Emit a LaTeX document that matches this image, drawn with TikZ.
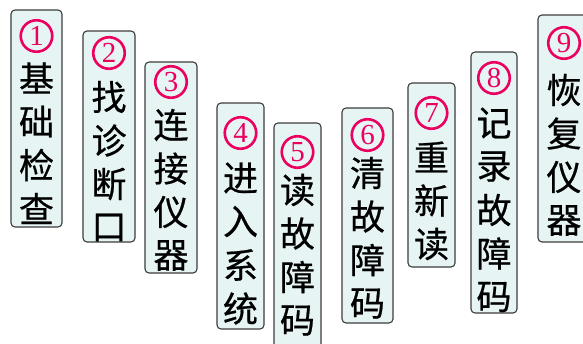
\documentclass[tikz,border=0pt]{standalone}
\usepackage{fontspec}
\setmainfont{Noto Sans CJK SC}
\newfontfamily\cjkfont[FakeBold=0.6]{Noto Sans CJK SC}
\newfontfamily\digitfont{Liberation Serif}
\definecolor{boxfill}{RGB}{230,244,244}
\definecolor{boxline}{RGB}{60,60,60}
\definecolor{numcol}{RGB}{235,0,95}
\tikzset{
  stepbox/.style={draw=boxline, fill=boxfill, line width=1.1pt, rounded corners=4pt, inner sep=0pt, outer sep=0pt},
  numtxt/.style={circle, draw=numcol, line width=2.6pt, minimum size=31.5pt, inner sep=0pt, text=numcol, font=\digitfont\fontsize{29}{29}\selectfont},
  chartxt/.style={text=black, font=\cjkfont\fontsize{35}{35}\selectfont, inner sep=0pt}
}
\newcommand\stepcol[9]{%
  \node[stepbox, anchor=north west, minimum width={#3-#2}, minimum height={#5-#4}] (#1) at (#2,#4) {};
  \node[numtxt] (#1-n) at ({(#2+#3)/2},#7) {\raisebox{-0.5pt}{#6}};
  \foreach \c [count=\i] in {#9} {\node[chartxt] (#1-\i) at ({(#2+#3)/2},{#8+(\i-1)*43.5}) {\c};}
}
\begin{document}
\begin{tikzpicture}[x=1pt,y=-1pt]
\useasboundingbox (0,0) rectangle (583,343);
\clip (0,0) rectangle (583,343);
\stepcol{s1}{11}{62}{10}{227}{1}{36}{78}{基,础,检,查}
\stepcol{s2}{83}{135}{31}{242}{2}{53}{97}{找,诊,断,口}
\stepcol{s3}{145}{197}{62}{273}{3}{82}{125}{连,接,仪,器}
\stepcol{s4}{217}{264}{103}{329}{4}{133}{178}{进,入,系,统}
\stepcol{s5}{274}{321}{123}{360}{5}{152}{190}{读,故,障,码}
\stepcol{s6}{342}{393}{108}{323}{6}{135}{173}{清,故,障,码}
\stepcol{s7}{408}{455}{83}{267}{7}{113}{157}{重,新,读}
\stepcol{s8}{471}{517}{52}{313}{8}{78}{123}{记,录,故,障,码}
\stepcol{s9}{538}{590}{15}{242}{9}{43}{90}{恢,复,仪,器}
\end{tikzpicture}
\end{document}
